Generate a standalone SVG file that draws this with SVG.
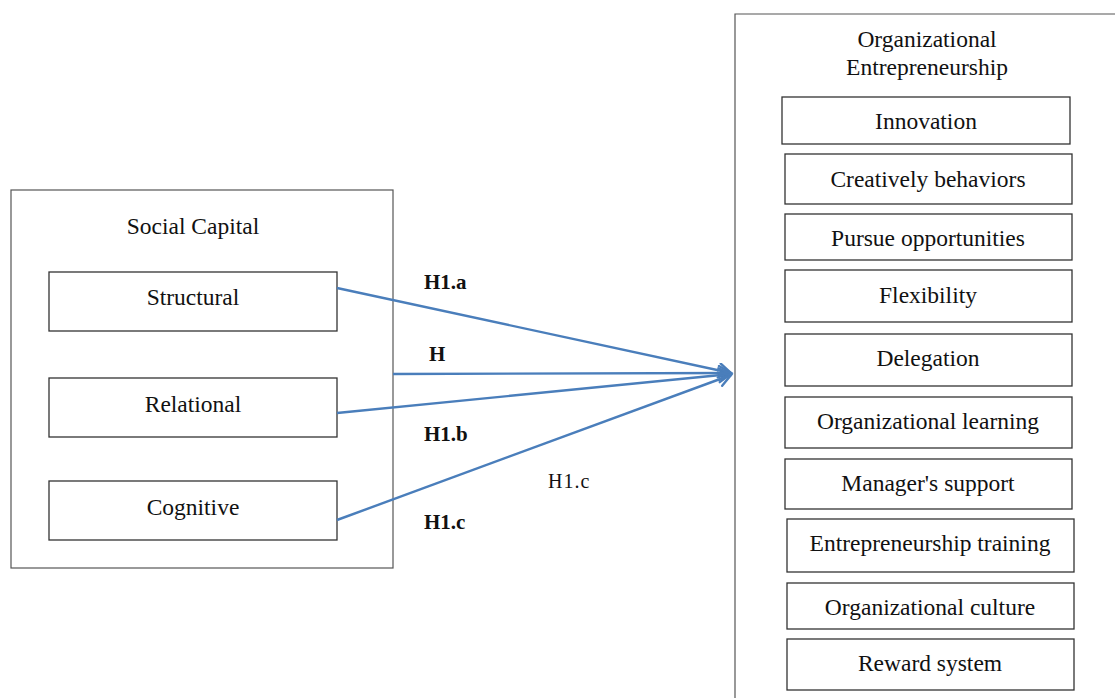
<svg xmlns="http://www.w3.org/2000/svg" width="1115" height="698" viewBox="0 0 1115 698">
<style>
.box{fill:#fff;stroke:#333;stroke-width:1.3}
.outer{fill:#fff;stroke:#555;stroke-width:1.2}
.t{font-family:"Liberation Serif","Times New Roman",serif;font-size:23.5px;fill:#111;text-anchor:middle}
.lb{font-family:"Liberation Serif","Times New Roman",serif;font-size:21px;font-weight:bold;fill:#111}
.ln{font-family:"Liberation Serif","Times New Roman",serif;font-size:20px;letter-spacing:1px;fill:#111}
.c{stroke:#4A7EBB;stroke-width:2.4;fill:none}
</style>
<defs>
<marker id="ah" markerWidth="20" markerHeight="20" refX="14" refY="8" orient="auto" markerUnits="userSpaceOnUse">
<path d="M2,1 L14,8 L2,15" fill="none" stroke="#4A7EBB" stroke-width="2.4" stroke-linecap="round"/>
</marker>
</defs>
<rect width="1115" height="698" fill="#fff"/>
<g id="social-capital">
<rect class="outer" x="11" y="190" width="382" height="378"/>
<text class="t" x="193" y="234">Social Capital</text>
</g>
<g id="structural"><rect class="box" x="49" y="272" width="288" height="59"/><text class="t" x="193" y="305">Structural</text></g>
<g id="relational"><rect class="box" x="49" y="378" width="288" height="59"/><text class="t" x="193" y="412">Relational</text></g>
<g id="cognitive"><rect class="box" x="49" y="481" width="288" height="59"/><text class="t" x="193" y="515">Cognitive</text></g>
<g id="org-entrepreneurship">
<path class="outer" d="M735,698 L735,14 L1116,14"/>
<text class="t" x="927" y="47">Organizational</text>
<text class="t" x="927" y="75">Entrepreneurship</text>
</g>
<g id="innovation"><rect class="box" x="782" y="97" width="288" height="47"/><text class="t" x="926" y="129">Innovation</text></g>
<g id="creatively"><rect class="box" x="785" y="154" width="287" height="50"/><text class="t" x="928" y="187">Creatively behaviors</text></g>
<g id="pursue"><rect class="box" x="785" y="214" width="287" height="46"/><text class="t" x="928" y="246">Pursue opportunities</text></g>
<g id="flexibility"><rect class="box" x="785" y="270" width="287" height="52"/><text class="t" x="928" y="303">Flexibility</text></g>
<g id="delegation"><rect class="box" x="785" y="334" width="287" height="52"/><text class="t" x="928" y="366">Delegation</text></g>
<g id="org-learning"><rect class="box" x="785" y="397" width="287" height="51"/><text class="t" x="928" y="429">Organizational learning</text></g>
<g id="manager-support"><rect class="box" x="785" y="459" width="287" height="50"/><text class="t" x="928" y="491">Manager's support</text></g>
<g id="entre-training"><rect class="box" x="787" y="519" width="287" height="53"/><text class="t" x="930" y="551">Entrepreneurship training</text></g>
<g id="org-culture"><rect class="box" x="787" y="583" width="287" height="46"/><text class="t" x="930" y="615">Organizational culture</text></g>
<g id="reward"><rect class="box" x="787" y="639" width="287" height="51"/><text class="t" x="930" y="671">Reward system</text></g>
<g id="connectors">
<line class="c" x1="337" y1="288" x2="731" y2="373" marker-end="url(#ah)"/>
<line class="c" x1="393" y1="374" x2="731" y2="373" marker-end="url(#ah)"/>
<line class="c" x1="337" y1="413" x2="731" y2="374" marker-end="url(#ah)"/>
<line class="c" x1="337" y1="520" x2="731" y2="375" marker-end="url(#ah)"/>
</g>
<g id="labels">
<text class="lb" x="424" y="289">H1.a</text>
<text class="lb" x="429" y="361">H</text>
<text class="lb" x="424" y="441">H1.b</text>
<text class="lb" x="424" y="529">H1.c</text>
<text class="ln" x="548" y="488">H1.c</text>
</g>
</svg>
